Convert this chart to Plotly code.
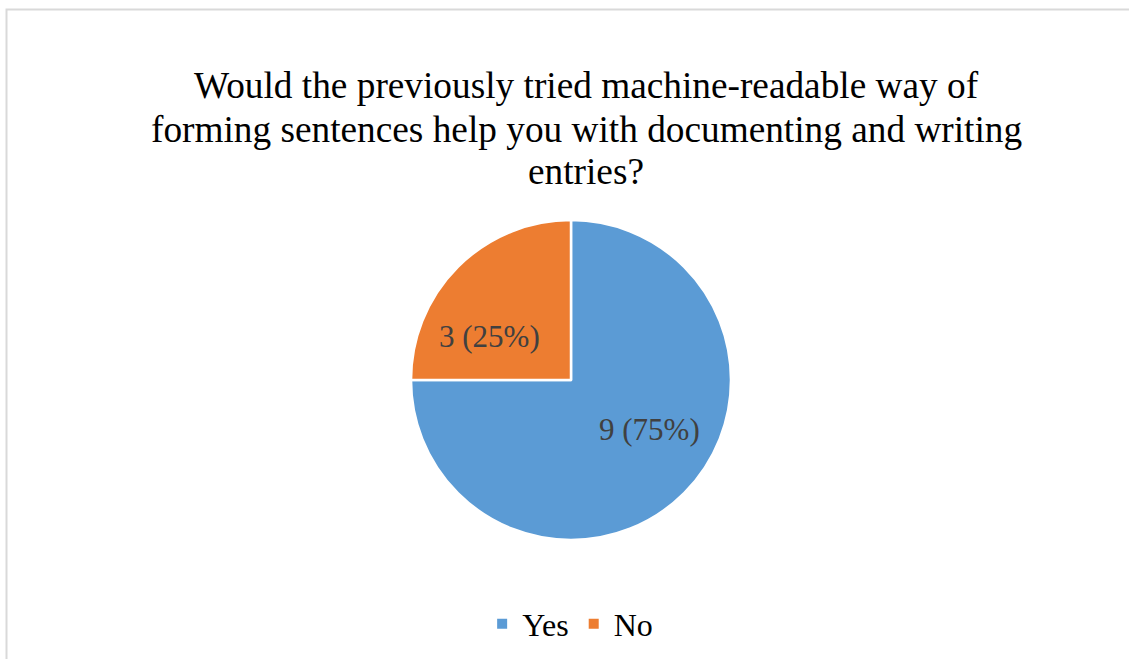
import plotly.graph_objects as go

labels = ["Yes", "No"]
counts = [9, 3]
colors = ["#5B9BD5", "#ED7D31"]

title_lines = [
    "Would the previously tried machine-readable way of",
    "forming sentences help you with documenting and writing",
    "entries?",
]

W, H = 1129, 659

# pie placement (pixels)
cx, cy, r = 571, 380, 160
dom_x = [(cx - r) / W, (cx + r) / W]
dom_y = [1 - (cy + r) / H, 1 - (cy - r) / H]

# data-label offsets inside each slice, in units of radius
label_offsets = {"Yes": (0.49, 0.31), "No": (-0.51, -0.27)}

fig = go.Figure(go.Pie(
    labels=labels,
    values=counts,
    sort=False,
    direction="clockwise",
    rotation=0,
    marker=dict(colors=colors, line=dict(color="white", width=2.5)),
    textinfo="none",
    hoverinfo="label+value+percent",
    domain=dict(x=dom_x, y=dom_y),
))

total = sum(counts)
annotations = []
for lab, val in zip(labels, counts):
    dx, dy = label_offsets[lab]
    annotations.append(dict(
        text=f"{val} ({round(100 * val / total)}%)",
        x=(cx + dx * r) / W, y=1 - (cy + dy * r) / H,
        xref="paper", yref="paper",
        xanchor="center", yanchor="middle", showarrow=False,
        font=dict(family="Liberation Serif", size=31, color="#404040"),
    ))

# title, one annotation per line for tight line spacing
for i, line in enumerate(title_lines):
    annotations.append(dict(
        text=line,
        x=586 / W, y=1 - (86 + 43 * i) / H,
        xref="paper", yref="paper",
        xanchor="center", yanchor="middle", showarrow=False,
        font=dict(family="Liberation Serif", size=37.3, color="#000000"),
    ))

fig.update_layout(
    width=W, height=H,
    margin=dict(l=0, r=0, t=0, b=0),
    paper_bgcolor="white",
    plot_bgcolor="white",
    legend=dict(
        orientation="h",
        x=0.505, xanchor="center",
        y=1 - 624 / H, yanchor="middle",
        font=dict(family="Liberation Serif", size=32, color="#000000"),
        itemsizing="constant",
        itemwidth=30,
    ),
    annotations=annotations,
    shapes=[dict(
        type="rect", xref="paper", yref="paper",
        x0=6.5 / W, y0=-0.05, x1=1.05, y1=1 - 9.5 / H,
        line=dict(color="#D9D9D9", width=2),
        fillcolor="rgba(0,0,0,0)",
    )],
)

fig.write_html("out.html")
